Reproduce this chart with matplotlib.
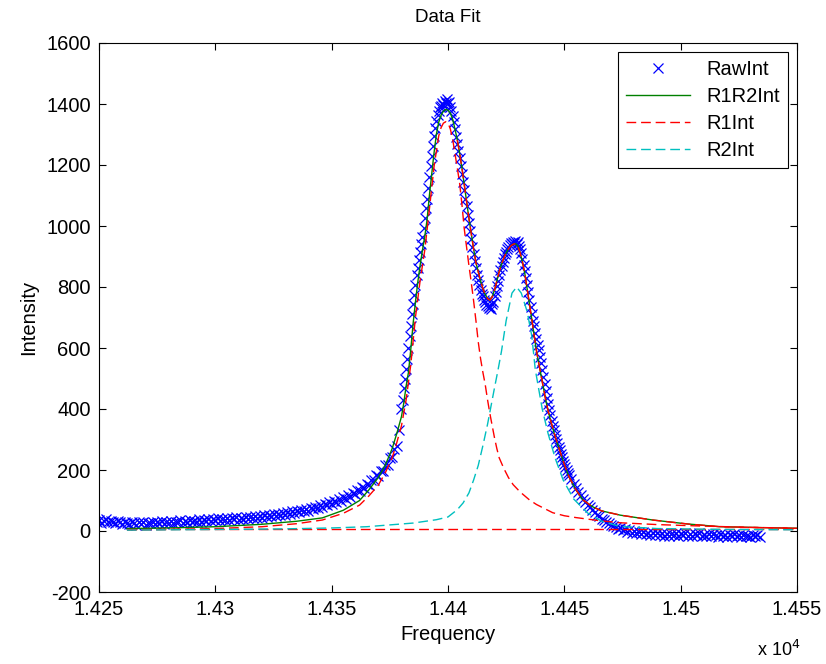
import numpy as np
import matplotlib.pyplot as plt

plt.rcParams['font.family'] = ['Liberation Sans', 'DejaVu Sans']
plt.rcParams['axes.unicode_minus'] = False

# =========================
# DATA
# =========================

# raw measurement, three evenly sampled pieces
raw_a_start, raw_a_step = 14248, 1.0
raw_a_int = [
    38, 30, 36, 27, 33, 39, 29, 34, 31, 26,
    33, 28, 24, 31, 27, 22, 29, 25, 20, 28,
    24, 30, 21, 27, 25, 31, 23, 28, 26, 33,
    24, 30, 27, 34, 25, 31, 28, 35, 27, 33,
    29, 36, 28, 34, 31, 38, 30, 35, 33, 40,
    32, 38, 35, 41, 33, 39, 36, 43, 35, 41,
    38, 45, 37, 43, 40, 47, 39, 46, 42, 49,
    43, 50, 44, 52, 46, 54, 48, 55, 50, 57,
    52, 60, 54, 62, 56, 65, 58, 67, 61, 70,
    64, 73, 67, 77, 71, 80, 75, 85, 79, 89,
    84, 95, 88, 100, 94, 106, 99, 112, 106, 118,
    113, 126, 121, 134, 130, 144, 140, 155, 152, 168,
    166, 182, 180, 198, 196, 215, 216, 238, 242, 268,
    278, 330,
]

raw_b_start, raw_b_step = 14380, 0.5
raw_b_int = [
    400, 430, 470, 500, 530, 565, 600, 640, 672, 710,
    745, 775, 808, 838, 862, 890, 915, 940, 965, 995,
    1025, 1058, 1090, 1125, 1160, 1196, 1230, 1262, 1295, 1322,
    1345, 1365, 1378, 1390, 1395, 1403, 1398, 1410, 1404, 1415,
    1402, 1408, 1390, 1378, 1362, 1340, 1318, 1292, 1270, 1245,
    1222, 1196, 1172, 1143, 1118, 1090, 1065, 1036, 1010, 985,
    958, 930, 908, 884, 862, 840, 822, 806, 790, 778,
    770, 758, 752, 742, 738, 730, 736, 728, 745, 752,
    770, 785, 802, 820, 838, 855, 868, 882, 895, 908,
    916, 925, 932, 938, 943, 940, 948, 944, 950, 942,
    946, 935, 925, 910, 892, 872, 852, 830, 805, 782,
    758, 735, 712, 690, 672, 650, 630, 610, 592, 572,
    550, 528, 505, 482, 458, 436, 415, 398, 380, 362,
    345, 330, 315, 302, 288, 276, 264, 252, 242, 230,
    220, 210, 200, 190, 182,
]

raw_c_start, raw_c_step = 14453, 1.0
raw_c_int = [
    170, 155, 142, 128, 118, 105, 96, 86, 78, 68,
    62, 54, 48, 40, 36, 30, 25, 20, 16, 12,
    8, 10, 2, 6, -2, 3, -5, 0, -7, -2,
    -9, -4, -11, -5, -12, -6, -14, -8, -13, -7,
    -15, -9, -16, -10, -14, -8, -17, -11, -13, -7,
    -16, -10, -18, -9, -14, -8, -17, -12, -15, -9,
    -18, -11, -14, -20, -10, -16, -12, -19, -13, -17,
    -11, -18, -14, -20, -12, -17, -15, -21, -13, -18,
    -14, -19,
]

# total fit (R1R2Int)
fit_freq = [
    14262, 14280, 14300, 14320, 14335, 14346, 14355, 14362, 14366, 14370,
    14373, 14376, 14378, 14380, 14381, 14382, 14383, 14384, 14385, 14386,
    14387, 14388, 14389, 14390, 14391, 14392, 14393, 14394, 14395, 14396,
    14397, 14398, 14399, 14400, 14401, 14402, 14403, 14404, 14405, 14406,
    14407, 14408, 14409, 14410, 14411, 14412, 14413, 14414, 14415, 14416,
    14417, 14418, 14419, 14420, 14421, 14422, 14423, 14424, 14425, 14426,
    14427, 14428, 14429, 14430, 14431, 14432, 14433, 14434, 14435, 14436,
    14437, 14438, 14439, 14440, 14441, 14442, 14443, 14444, 14445, 14446,
    14447, 14448, 14450, 14452, 14455, 14458, 14462, 14466, 14474, 14488,
    14503, 14517, 14535, 14550,
]
r1r2_int = [
    8, 10, 14, 22, 32, 43, 68, 100, 135, 175,
    215, 270, 320, 375, 420, 475, 520, 595, 680, 750,
    815, 870, 920, 965, 1020, 1100, 1170, 1240, 1300, 1340,
    1363, 1376, 1382, 1380, 1370, 1350, 1318, 1282, 1238, 1190,
    1135, 1080, 1025, 975, 925, 880, 850, 820, 795, 775,
    762, 757, 768, 790, 820, 850, 875, 895, 912, 925,
    935, 940, 942, 935, 912, 882, 845, 795, 745, 695,
    642, 592, 550, 510, 470, 430, 395, 365, 338, 312,
    287, 265, 218, 178, 135, 102, 80, 66, 52, 36,
    23, 14, 11, 9,
]

# first component (R1Int)
r1_freq = [
    14262, 14280, 14300, 14320, 14335, 14346, 14355, 14362, 14366, 14370,
    14373, 14376, 14378, 14380, 14382, 14384, 14386, 14388, 14390, 14392,
    14394, 14396, 14397, 14398, 14399, 14400, 14401, 14402, 14404, 14405,
    14406, 14407, 14408, 14409, 14410, 14411, 14412, 14413, 14414, 14415,
    14416, 14417, 14418, 14419, 14420, 14421, 14422, 14424, 14426, 14428,
    14431, 14435, 14438, 14445, 14450, 14455, 14465, 14474, 14490, 14510,
    14530, 14550,
]
r1_int = [
    3, 5, 8, 14, 24, 36, 58, 85, 115, 150,
    190, 240, 290, 345, 430, 545, 700, 820, 920, 1055,
    1195, 1295, 1322, 1337, 1342, 1338, 1318, 1285, 1190, 1140,
    1070, 990, 930, 870, 815, 755, 690, 620, 565, 520,
    480, 430, 385, 345, 305, 270, 240, 205, 175, 152,
    128, 102, 87, 60, 50, 44, 34, 27, 21, 16,
    12, 9,
]

# flat red dashed baseline
base_freq = [14262, 14550]
base_int = [6, 6]

# second component (R2Int)
r2_freq = [
    14262, 14300, 14330, 14350, 14365, 14385, 14395, 14400, 14404, 14406.5,
    14409, 14411, 14413, 14415, 14417, 14418.5, 14420, 14421.5, 14423, 14425,
    14427.5, 14429.5, 14431.5, 14434, 14436, 14437.5, 14439, 14440.5, 14443, 14446,
    14449.5, 14454, 14460, 14466, 14474, 14490, 14520, 14550,
]
r2_int = [
    3, 5, 7, 10, 14, 26, 37, 46, 70, 92,
    125, 167, 215, 280, 350, 410, 470, 528, 590, 690,
    780, 800, 780, 720, 640, 530, 465, 400, 320, 240,
    167, 105, 59, 32, 15, 8, 5, 4,
]

x_ticks = [14250, 14300, 14350, 14400, 14450, 14500, 14550]
x_tick_labels = ["1.425", "1.43", "1.435", "1.44", "1.445", "1.45", "1.455"]
y_ticks = [-200, 0, 200, 400, 600, 800, 1000, 1200, 1400, 1600]

# =========================
# PLOT
# =========================

raw_freq = np.concatenate([
    raw_a_start + raw_a_step * np.arange(len(raw_a_int)),
    raw_b_start + raw_b_step * np.arange(len(raw_b_int)),
    raw_c_start + raw_c_step * np.arange(len(raw_c_int)),
])
raw_int = np.array(raw_a_int + raw_b_int + raw_c_int)

fit_freq = np.array(fit_freq)
r1r2_int = np.array(r1r2_int)

fs = 14.5
dash = (7, 3.5)

fig = plt.figure(figsize=(8.26, 6.64), dpi=100)
ax = fig.add_axes([99 / 826, 1 - 592 / 664, 698 / 826, 549 / 664])

h_raw, = ax.plot(raw_freq, raw_int, 'x', color='b',
                 markersize=7, markeredgewidth=0.9)
h_fit, = ax.plot(fit_freq, r1r2_int, '-', color=(0, 0.5, 0), lw=1.0)
h_r1, = ax.plot(r1_freq, r1_int, '--', color='r', lw=1.0, dashes=dash)

# red dashed copy riding on the total fit past the first peak
mask = fit_freq >= 14404
ax.plot(fit_freq[mask], r1r2_int[mask], '--', color='r', lw=1.0, dashes=dash)
ax.plot(base_freq, base_int, '--', color='r', lw=1.0, dashes=dash)

h_r2, = ax.plot(r2_freq, r2_int, '--', color=(0, 0.75, 0.75), lw=1.0, dashes=dash)

ax.set_xlim(14250, 14550)
ax.set_ylim(-200, 1600)

ax.set_xticks(x_ticks)
ax.set_xticklabels(x_tick_labels)
ax.set_yticks(y_ticks)

ax.tick_params(direction='in', length=5, width=0.8, top=True, right=True,
               labelsize=fs, pad=6, colors='black')
for s in ax.spines.values():
    s.set_linewidth(0.8)
    s.set_color('black')

ax.set_title("Data Fit", fontsize=13.5, pad=15)
ax.set_xlabel("Frequency", fontsize=fs, labelpad=4)
ax.set_ylabel("Intensity", fontsize=fs, labelpad=6)

fig.text(800 / 826, 1 - 660 / 664, r"x 10$^4$", fontsize=13,
         ha='right', va='bottom')

leg = ax.legend(
    [h_raw, h_fit, h_r1, h_r2],
    ["RawInt", "R1R2Int", "R1Int", "R2Int"],
    loc='upper right',
    fontsize=fs,
    numpoints=1,
    handlelength=3.2,
    labelspacing=0.4,
    borderaxespad=0.45,
    fancybox=False,
    framealpha=1,
    edgecolor='black',
)
leg.get_frame().set_linewidth(0.8)

fig.savefig("out.png", dpi=100)
